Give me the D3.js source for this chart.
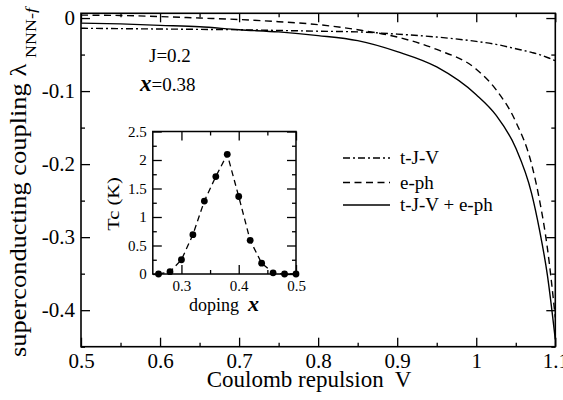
<!DOCTYPE html>
<html>
<head>
<meta charset="utf-8">
<script src="https://cdn.jsdelivr.net/npm/d3@7"></script>
<style>
  body { margin: 0; background: #fff; }
  svg { display: block; }
  svg text { font-family: "Liberation Serif", "Times New Roman", serif !important; fill: #000; }
</style>
</head>
<body>
<div id="chart"></div>
<script>
// main panel: coupling vs Coulomb repulsion V
const coulombV = [0.5, 0.55, 0.6, 0.65, 0.7, 0.75, 0.8, 0.85, 0.9, 0.95, 1.0, 1.025, 1.05, 1.07, 1.08, 1.09, 1.1];
const tJV      = [-0.014, -0.0145, -0.015, -0.0155, -0.016, -0.017, -0.018, -0.019, -0.022, -0.026, -0.032, -0.036, -0.042, -0.047, -0.050, -0.054, -0.0585];
const ePh      = [0.004, 0.0035, 0.002, 0.0, -0.002, -0.005, -0.009, -0.016, -0.026, -0.043, -0.070, -0.098, -0.142, -0.200, -0.249, -0.315, -0.41];
const tJVePh   = [-0.007, -0.008, -0.010, -0.012, -0.016, -0.019, -0.024, -0.031, -0.046, -0.067, -0.105, -0.133, -0.178, -0.240, -0.290, -0.352, -0.44];

const seriesNames = ["t-J-V", "e-ph", "t-J-V + e-ph"];

// inset: Tc vs doping
const doping = [0.26, 0.28, 0.30, 0.32, 0.34, 0.36, 0.38, 0.40, 0.42, 0.44, 0.46, 0.48, 0.50];
const tcK    = [0, 0.04, 0.25, 0.69, 1.28, 1.71, 2.1, 1.36, 0.59, 0.19, 0.02, 0, 0];

const xMajor = [0.5, 0.6, 0.7, 0.8, 0.9, 1.0, 1.1];
const xMinor = [0.55, 0.65, 0.75, 0.85, 0.95, 1.05];
const yMajor = [0, -0.1, -0.2, -0.3, -0.4];
const yMinor = [-0.05, -0.15, -0.25, -0.35, -0.45];
const insetXMajor = [0.3, 0.4, 0.5];
const insetXMinor = [0.35, 0.45];
const insetYMajor = [0, 0.5, 1, 1.5, 2, 2.5];
const insetYMinor = [0.25, 0.75, 1.25, 1.75, 2.25];

const W = 563, H = 400;
const margin = {top: 13.3, right: 7.7, bottom: 53.3, left: 81};
const width = W - margin.left - margin.right;
const height = H - margin.top - margin.bottom;
const serif = '"Liberation Serif", "Times New Roman", serif';

const svg = d3.select("#chart").append("svg")
  .attr("width", W).attr("height", H)
  .attr("font-family", serif);

const g = svg.append("g")
  .attr("transform", "translate(" + margin.left + "," + margin.top + ")");

const x = d3.scaleLinear().domain([0.5, 1.1]).range([0, width]);
const y = d3.scaleLinear().domain([-0.45, 0.0065]).range([height, 0]);

svg.append("defs").append("clipPath").attr("id", "clip")
  .append("rect").attr("width", width).attr("height", height);

const fmtMain = d => d === 0 ? "0" : String(Math.round(d * 100) / 100);

// ticks on all four sides, pointing inward
function ticks(sel, axis, vals, size, labels, fs, fmt) {
  const a = sel.call(axis.tickValues(vals).tickSize(-size).tickPadding(6)
    .tickFormat(labels ? (fmt || fmtMain) : ""));
  a.attr("font-family", serif);
  a.select(".domain").remove();
  a.selectAll("line").attr("stroke", "#000").attr("stroke-width", 1.3);
  a.selectAll("text").attr("font-family", serif).style("font-size", (fs || 15) + "px");
  return a;
}

ticks(g.append("g").attr("transform", "translate(0," + height + ")"), d3.axisBottom(x), xMajor, 9, true, 21);
ticks(g.append("g").attr("transform", "translate(0," + height + ")"), d3.axisBottom(x), xMinor, 4, false);
ticks(g.append("g"), d3.axisTop(x), xMajor, 9, false);
ticks(g.append("g"), d3.axisTop(x), xMinor, 4, false);
ticks(g.append("g"), d3.axisLeft(y), yMajor, 9, true, 21);
ticks(g.append("g"), d3.axisLeft(y), yMinor, 4, false);
ticks(g.append("g").attr("transform", "translate(" + width + ",0)"), d3.axisRight(y), yMajor, 9, false);
ticks(g.append("g").attr("transform", "translate(" + width + ",0)"), d3.axisRight(y), yMinor, 4, false);

// curves
const line = d3.line()
  .x(d => x(d[0]))
  .y(d => y(d[1]))
  .curve(d3.curveMonotoneX);

const dashes = ["7,3,2,3", "7,4.5", null];
const curves = [tJV, ePh, tJVePh];

curves.forEach((vals, i) => {
  g.append("path")
    .datum(coulombV.map((v, j) => [v, vals[j]]))
    .attr("clip-path", "url(#clip)")
    .attr("fill", "none")
    .attr("stroke", "#000")
    .attr("stroke-width", 1.4)
    .attr("stroke-dasharray", dashes[i])
    .attr("d", line);
});

g.append("rect")
  .attr("width", width).attr("height", height)
  .attr("fill", "none").attr("stroke", "#000").attr("stroke-width", 1.6);

// legend
const legend = svg.append("g");
[158, 182.5, 205].forEach((ly, i) => {
  legend.append("line")
    .attr("x1", 343).attr("x2", 390).attr("y1", ly).attr("y2", ly)
    .attr("stroke", "#000").attr("stroke-width", 1.4)
    .attr("stroke-dasharray", dashes[i]);
  legend.append("text")
    .attr("x", 400).attr("y", ly + 6)
    .style("font-size", "19px")
    .text(seriesNames[i]);
});

// annotations
svg.append("text").attr("x", 149).attr("y", 62).style("font-size", "19px").text("J=0.2");
const xt = svg.append("text").attr("x", 140).attr("y", 91).style("font-size", "19px");
xt.append("tspan").style("font-size", "23px").style("font-weight", "bold").style("font-style", "italic").text("x");
xt.append("tspan").text("=0.38");

// axis titles
svg.append("text")
  .attr("x", 309).attr("y", 387)
  .attr("text-anchor", "middle")
  .style("font-size", "23px")
  .style("white-space", "pre")
  .text("Coulomb repulsion  V");

// the original's rotated text is drawn a bit stretched along its length
svg.append("text")
  .attr("transform", "translate(26,357) rotate(-90) scale(1.15,1)")
  .style("font-size", "23px")
  .text("superconducting coupling λ");

// subscript, its end at the top of the picture
const sub = svg.append("text")
  .attr("transform", "translate(36,8) rotate(-90) scale(1.2,1)")
  .attr("text-anchor", "end")
  .style("font-size", "15px");
sub.append("tspan").text("NNN-");
sub.append("tspan").style("font-style", "italic").text("f");

// inset
const inset = {left: 152.8, top: 131.5, right: 296, bottom: 274};
const iw = inset.right - inset.left, ih = inset.bottom - inset.top;
const ig = svg.append("g").attr("transform", "translate(" + inset.left + "," + inset.top + ")");

const ix = d3.scaleLinear().domain([0.25, 0.5]).range([0, iw]);
const iy = d3.scaleLinear().domain([0, 2.5]).range([ih, 0]);

ig.append("rect").attr("width", iw).attr("height", ih).attr("fill", "#fff");

const fmtInset = d => String(d);
ticks(ig.append("g").attr("transform", "translate(0," + ih + ")"), d3.axisBottom(ix), insetXMajor, 9, true, 15, fmtInset);
ticks(ig.append("g").attr("transform", "translate(0," + ih + ")"), d3.axisBottom(ix), insetXMinor, 4, false);
ticks(ig.append("g"), d3.axisTop(ix), insetXMajor, 9, false);
ticks(ig.append("g"), d3.axisTop(ix), insetXMinor, 4, false);
ticks(ig.append("g"), d3.axisLeft(iy), insetYMajor, 9, true, 15, fmtInset);
ticks(ig.append("g"), d3.axisLeft(iy), insetYMinor, 4, false);
ticks(ig.append("g").attr("transform", "translate(" + iw + ",0)"), d3.axisRight(iy), insetYMajor, 9, false);
ticks(ig.append("g").attr("transform", "translate(" + iw + ",0)"), d3.axisRight(iy), insetYMinor, 4, false);

const insetPts = doping.map((d, i) => [d, tcK[i]]);

ig.append("path")
  .datum(insetPts)
  .attr("fill", "none")
  .attr("stroke", "#000")
  .attr("stroke-width", 1.3)
  .attr("stroke-dasharray", "6,4")
  .attr("d", d3.line().x(d => ix(d[0])).y(d => iy(d[1])));

ig.selectAll("circle")
  .data(insetPts)
  .join("circle")
  .attr("cx", d => ix(d[0]))
  .attr("cy", d => iy(d[1]))
  .attr("r", 3.4)
  .attr("fill", "#000");

ig.append("rect").attr("width", iw).attr("height", ih)
  .attr("fill", "none").attr("stroke", "#000").attr("stroke-width", 1.5);

const dl = svg.append("text")
  .attr("x", 224).attr("y", 311)
  .attr("text-anchor", "middle")
  .style("font-size", "18px")
  .style("white-space", "pre");
dl.append("tspan").text("doping  ");
dl.append("tspan").style("font-size", "22px").style("font-weight", "bold").style("font-style", "italic").text("x");

svg.append("text")
  .attr("transform", "translate(119,204) rotate(-90) scale(1.2,1)")
  .attr("text-anchor", "middle")
  .style("font-size", "17px")
  .text("Tc (K)");
</script>
</body>
</html>
